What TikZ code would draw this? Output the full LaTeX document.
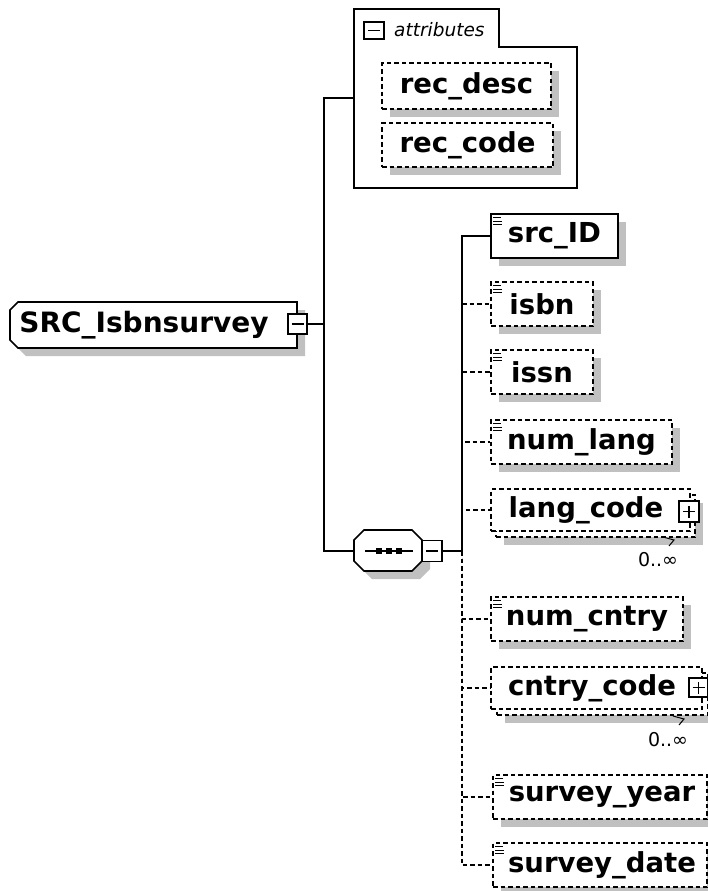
\documentclass[tikz,border=0pt]{standalone}
\usepackage{fontspec}
\setmainfont{DejaVu Sans}
\usetikzlibrary{shadows,calc}
\definecolor{shadowc}{HTML}{C0C0C0}
\tikzset{
  shd/.style={drop shadow={shadow xshift=8pt, shadow yshift=-8pt, fill=shadowc, opacity=1}},
  lw/.style={line width=1.6pt},
  dsh/.style={dash pattern=on 4.5pt off 3pt},
  elembase/.style={draw, lw, fill=white, inner sep=0pt, font=\fontsize{27.5}{30}\selectfont\bfseries},
  elem/.style={elembase, shd},
  optel/.style={elem, dsh},
  multifront/.style={elembase, dsh},
  backbox/.style={draw, lw, dsh, fill=white, shd, inner sep=0pt},
  pmbox/.style={draw, line width=1.4pt, fill=white, inner sep=0pt},
  occ/.style={font=\fontsize{19}{20}\selectfont, inner sep=0pt},
  ghost/.style={draw=none, inner sep=0pt},
}
\newcommand{\elicon}[1]{\foreach \yy/\ll in {4.5/8,8/9,11.5/9}{\draw[line width=1.1pt] ([xshift=3pt,yshift=-\yy pt]#1.north west) -- ++(\ll,0);}}
\newcommand{\minussign}[1]{\draw[line width=1.3pt] ([xshift=-6pt]#1.center) -- ([xshift=6pt]#1.center);}
\newcommand{\plussign}[1]{\draw[line width=1.3pt] ([xshift=-6pt]#1.center) -- ([xshift=6pt]#1.center);\draw[line width=1.3pt] ([yshift=-6pt]#1.center) -- ([yshift=6pt]#1.center);}
\begin{document}
\begin{tikzpicture}[x=1pt,y=-1pt]
\clip (0,0) rectangle (708,891);
\fill[white] (0,0) rectangle (708,891);

% ---- root element ----
\path[draw, lw, fill=white, shd] (18,302) -- (297,302) -- (297,348) -- (18,348) -- (10,340) -- (10,310) -- cycle;
\node[ghost, minimum width=287pt, minimum height=46pt, font=\fontsize{28}{30}\selectfont\bfseries] (root) at (153.5,325) {SRC\_Isbnsurvey\hspace*{19pt}};
\node[pmbox, minimum width=19pt, minimum height=20pt] (rminus) at (297.5,324) {};
\minussign{rminus}

% ---- attributes group ----
\path[draw, lw] (354,9) -- (499,9) -- (499,47) -- (577,47) -- (577,188) -- (354,188) -- cycle;
\node[ghost, minimum width=223pt, minimum height=178pt] (attrgrp) at (465.5,98) {};
\node[pmbox, minimum width=20pt, minimum height=17pt] (aminus) at (374,30.5) {};
\minussign{aminus}
\node[anchor=west, inner sep=0pt, font=\fontsize{18.5}{20}\selectfont\itshape] (attrlbl) at (394,30) {attributes};
\node[optel, minimum width=169pt, minimum height=46pt] (recdesc) at (466.5,86) {rec\_desc};
\node[optel, minimum width=171pt, minimum height=44pt] (reccode) at (467.5,145) {rec\_code};

% ---- sequence compositor ----
\path[draw, lw, fill=white, shd] (364,530) -- (412,530) -- (422,540) -- (422,561) -- (412,571) -- (364,571) -- (354,561) -- (354,540) -- cycle;
\node[ghost, minimum width=68pt, minimum height=42pt] (seq) at (388,551) {};
\draw[lw] (365,551) -- (413,551);
\foreach \cx in {379,389,399}{\fill (\cx-3,548) rectangle (\cx+3,554);}
\node[pmbox, minimum width=20pt, minimum height=21pt] (sminus) at (432,551) {};
\minussign{sminus}

% ---- children ----
\node[elem, minimum width=127pt, minimum height=44pt] (srcID) at (554.5,236) {src\_ID};
\elicon{srcID}
\node[optel, minimum width=102pt, minimum height=44pt] (isbn) at (542,304) {isbn};
\elicon{isbn}
\node[optel, minimum width=102pt, minimum height=44pt] (issn) at (542,372) {issn};
\elicon{issn}
\node[optel, minimum width=181pt, minimum height=44pt] (numlang) at (581.5,442) {num\_lang};
\elicon{numlang}

\node[backbox, minimum width=199pt, minimum height=42pt] (langback) at (595.5,516) {};
\node[multifront, minimum width=199pt, minimum height=42pt] (langcode) at (590.5,510) {lang\_code\hspace*{9pt}};
\node[pmbox, minimum width=20pt, minimum height=21pt] (lplus) at (689,511.5) {};
\plussign{lplus}
\draw[line width=1pt] (663,537) -- (674,540) -- (669,546);
\node[occ] (lmult) at (658,560) {0..∞};

\node[optel, minimum width=192pt, minimum height=44pt] (numcntry) at (587,619) {num\_cntry};
\elicon{numcntry}

\node[backbox, minimum width=211pt, minimum height=42pt] (cntryback) at (602.5,694) {};
\node[multifront, minimum width=211pt, minimum height=42pt] (cntrycode) at (596.5,688) {cntry\_code\hspace*{9pt}};
\node[pmbox, minimum width=19pt, minimum height=19pt] (cplus) at (698.5,687.5) {};
\plussign{cplus}
\draw[line width=1pt] (673,716) -- (684,719) -- (679,725);
\node[occ] (cmult) at (668,740) {0..∞};

\node[optel, minimum width=214pt, minimum height=44pt] (survyear) at (600,797) {\hspace*{4pt}survey\_year};
\elicon{survyear}
\node[optel, minimum width=214pt, minimum height=44pt] (survdate) at (600,865) {\hspace*{4pt}survey\_date};
\elicon{survdate}

% ---- connectors ----
\draw[lw] (rminus.east) -- ++(16,0) coordinate (rj);
\draw[lw] (rj) |- (attrgrp.west);
\draw[lw] (rj) |- (seq.west);
\draw[lw] (sminus.east) -- ++(19,0) coordinate (sj);
\draw[lw] (sj) |- (srcID.west);
\foreach \n in {isbn,issn,numlang,langcode,numcntry,cntrycode,survyear,survdate}{
  \draw[lw, dsh] (sj) |- (\n.west);
}
\end{tikzpicture}
\end{document}
